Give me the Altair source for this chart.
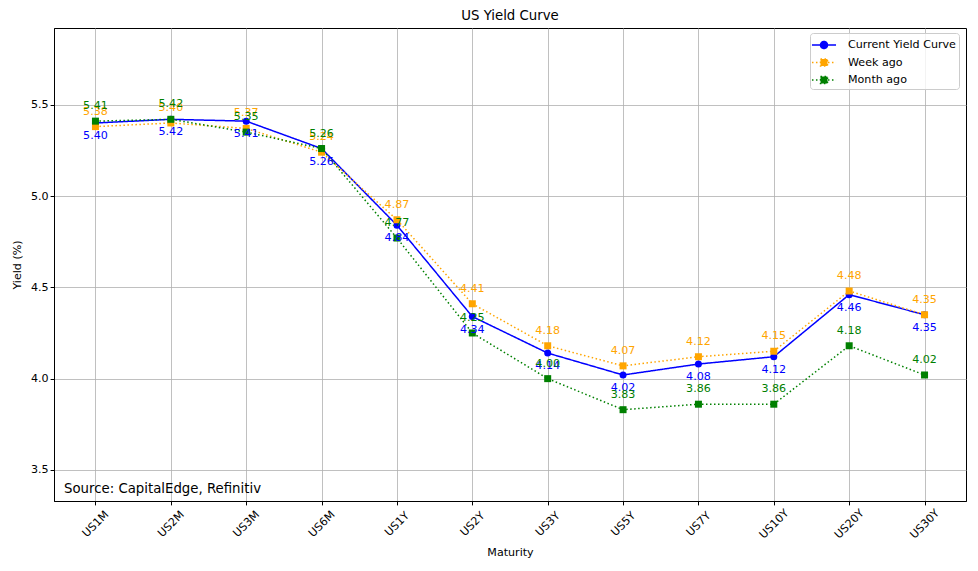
import altair as alt
import pandas as pd

maturities = ["US1M", "US2M", "US3M", "US6M", "US1Y", "US2Y", "US3Y", "US5Y", "US7Y", "US10Y", "US20Y", "US30Y"]
current = [5.40, 5.42, 5.41, 5.26, 4.84, 4.34, 4.14, 4.02, 4.08, 4.12, 4.46, 4.35]
week_ago = [5.38, 5.40, 5.37, 5.24, 4.87, 4.41, 4.18, 4.07, 4.12, 4.15, 4.48, 4.35]
month_ago = [5.41, 5.42, 5.35, 5.26, 4.77, 4.25, 4.00, 3.83, 3.86, 3.86, 4.18, 4.02]
series_names = ["Current Yield Curve", "Week ago", "Month ago"]
series_colors = ["#0000ff", "#ffa500", "#008000"]
y_ticks = [3.5, 4.0, 4.5, 5.0, 5.5]
y_domain = [3.33, 5.92]
source_text = "Source: CapitalEdge, Refinitiv"

FONT = "DejaVu Sans"
W, H = 912, 473

rows = []
for name, vals in zip(series_names, [current, week_ago, month_ago]):
    for i, (m, v) in enumerate(zip(maturities, vals)):
        rows.append({"maturity": m, "series": name, "value": v, "idx": i,
                     "label": f"{v:.2f}"})
df = pd.DataFrame(rows)

x_enc = alt.X("maturity:N", sort=maturities, title="Maturity",
              scale=alt.Scale(type="point", padding=0.55),
              axis=alt.Axis(labelAngle=-45, labelAlign="center", labelBaseline="middle",
                            labelPadding=19, titlePadding=6, grid=True))
y_enc = alt.Y("value:Q", title="Yield (%)",
              scale=alt.Scale(domain=y_domain, nice=False, zero=False),
              axis=alt.Axis(values=y_ticks, format=".1f", grid=True, titlePadding=8))

base = alt.Chart(df)
layers = []
styles = [
    dict(dash=[1, 0], shape="circle"),
    dict(dash=[1.5, 2.5], shape="square"),
    dict(dash=[1.5, 2.5], shape="square"),
]
for name, col, st in zip(series_names, series_colors, styles):
    sub = base.transform_filter(alt.datum.series == name)
    layers.append(sub.mark_line(color=col, strokeWidth=1.5, strokeDash=st["dash"]).encode(
        x=x_enc, y=y_enc, order="idx:Q"))
    layers.append(sub.mark_point(color=col, filled=True, opacity=1, shape=st["shape"], size=49).encode(
        x=x_enc, y=y_enc))

for name, col, dy in zip(series_names, series_colors, [13, -15, -15]):
    sub = base.transform_filter(alt.datum.series == name)
    layers.append(sub.mark_text(color=col, fontSize=11.1, font=FONT, dy=dy, baseline="middle",
                                align="center").encode(x=x_enc, y=y_enc, text="label:N"))

# legend-only layer (draws nothing, only provides the legend)
legend_paths = [
    "M-1.18,0L1.65,0M-0.176,0A0.41,0.41,0,1,1,0.644,0A0.41,0.41,0,1,1,-0.176,0Z",
    "M-1.18,0L1.65,0M-0.176,-0.41L0.644,-0.41L0.644,0.41L-0.176,0.41Z",
    "M-1.18,0L1.65,0M-0.176,-0.41L0.644,-0.41L0.644,0.41L-0.176,0.41Z",
]
legend_dashes = [[1, 0], [1.5, 2.5], [1.5, 2.5]]
leg = alt.Legend(title=None, orient="none", legendX=756, legendY=5, padding=2.5,
                 strokeColor="#cccccc", fillColor="rgba(255,255,255,0.8)", cornerRadius=3,
                 labelFont=FONT, labelFontSize=11.1, labelColor="#000000",
                 symbolSize=289, symbolStrokeWidth=1.5, labelOffset=16.5, rowPadding=1.5)
legend_layer = base.transform_filter("false").mark_point(filled=True, opacity=1).encode(
    fill=alt.Fill("series:N", scale=alt.Scale(domain=series_names, range=series_colors), legend=leg),
    stroke=alt.Stroke("series:N", scale=alt.Scale(domain=series_names, range=series_colors), legend=leg),
    shape=alt.Shape("series:N", scale=alt.Scale(domain=series_names, range=legend_paths), legend=leg),
    strokeDash=alt.StrokeDash("series:N", scale=alt.Scale(domain=series_names, range=legend_dashes), legend=leg),
)
layers.append(legend_layer)

source = alt.Chart(pd.DataFrame({"t": [source_text]})).mark_text(
    align="left", baseline="middle", font=FONT, fontSize=13.3, color="#000000"
).encode(x=alt.value(10), y=alt.value(461), text="t:N")
layers.append(source)

chart = alt.layer(*layers).properties(
    width=W, height=H,
    title=alt.TitleParams("US Yield Curve", font=FONT, fontSize=13.3, fontWeight="normal",
                          color="#000000", offset=6, anchor="middle"),
    autosize=alt.AutoSizeParams(type="none"),
    padding={"left": 46, "top": 20, "right": 4, "bottom": 62},
).configure_view(stroke="#000000", strokeWidth=1).configure_axis(
    labelFont=FONT, titleFont=FONT, labelFontSize=11.1, titleFontSize=11.1,
    labelColor="#000000", titleColor="#000000", titleFontWeight="normal",
    domainColor="#000000", tickColor="#000000", tickSize=3.9, domainWidth=1,
    gridColor="#b0b0b0", gridWidth=0.8, gridOpacity=1,
)

chart.save("out.html", embed_options={"renderer": "svg", "actions": False})
